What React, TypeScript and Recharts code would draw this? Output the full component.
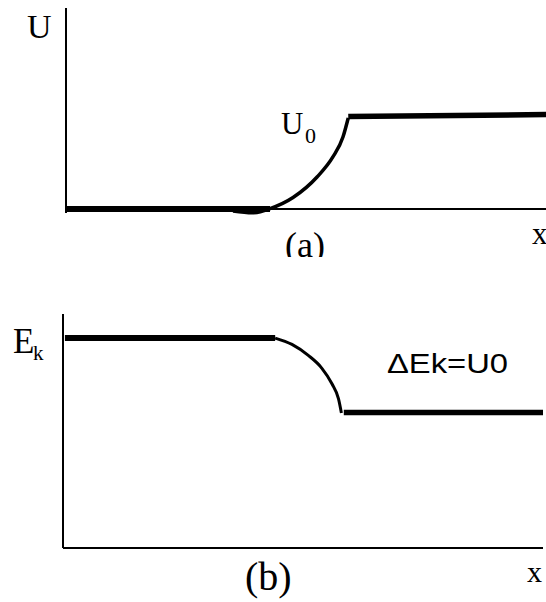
import React from 'react';
import { LineChart, Line, XAxis, YAxis, ReferenceLine, Customized } from 'recharts';

// panel (a): potential energy U against x
const uLow = [
  { x: 0, y: 0 },
  { x: 4.25, y: 0 },
];
const uRise = [
  { x: 3.48, y: -0.1 },
  { x: 3.88, y: -0.19 },
  { x: 4.25, y: 0.02 },
  { x: 4.73, y: 0.57 },
  { x: 5.23, y: 1.59 },
  { x: 5.56, y: 2.59 },
  { x: 5.77, y: 3.58 },
  { x: 5.88, y: 4.53 },
];
const uHigh = [
  { x: 5.88, y: 4.6 },
  { x: 10, y: 4.7 },
];

// panel (b): kinetic energy Ek against x
const ekHigh = [
  { x: 0.04, y: 8.97 },
  { x: 4.42, y: 8.97 },
];
const ekFall = [
  { x: 4.42, y: 8.97 },
  { x: 4.77, y: 8.7 },
  { x: 5.11, y: 8.23 },
  { x: 5.39, y: 7.69 },
  { x: 5.6, y: 7.03 },
  { x: 5.74, y: 6.37 },
  { x: 5.8, y: 5.77 },
];
const ekLow = [
  { x: 5.85, y: 5.79 },
  { x: 10, y: 5.79 },
];

const serif = "'Liberation Serif', 'Times New Roman', serif";
const sans = "'Liberation Sans', Arial, sans-serif";

const TopLabels = () => (
  <g fontFamily={serif} fill="#000">
    <text x={27} y={38} fontSize={34}>U</text>
    <text x={281} y={134} fontSize={31}>U</text>
    <text x={305} y={143} fontSize={22}>0</text>
    <text x={285} y={257} fontSize={36}>(a)</text>
    <text x={532} y={244} fontSize={31}>x</text>
  </g>
);

const BottomLabels = () => (
  <g fill="#000">
    <text x={13} y={96} fontSize={35} fontFamily={serif}>E</text>
    <text x={33} y={103} fontSize={21} fontFamily={serif}>k</text>
    <text x={387} y={116} fontSize={28} fontFamily={sans} textLength={121} lengthAdjust="spacingAndGlyphs">
      ΔEk=U0
    </text>
    <text x={245} y={333} fontSize={40} fontFamily={serif}>(b)</text>
    <text x={527} y={325} fontSize={30} fontFamily={serif}>x</text>
  </g>
);

export default function App() {
  return (
    <div style={{ position: 'absolute', left: 0, top: 0, width: 546, height: 602, background: '#fff' }}>
      <div style={{ width: 546, height: 257, overflow: 'hidden' }}>
        <LineChart width={546} height={257} margin={{ top: 8, right: 0, bottom: 44, left: 66 }}>
          <XAxis type="number" dataKey="x" domain={[0, 10]} hide />
          <YAxis type="number" domain={[-0.2, 10]} hide />
          {/* axes drawn as reference lines so the base line can sit on them */}
          <ReferenceLine x={0} stroke="#000" strokeWidth={2} />
          <ReferenceLine y={0} stroke="#000" strokeWidth={2} />
          <Line data={uLow} dataKey="y" type="linear" stroke="#000" strokeWidth={6} dot={false} isAnimationActive={false} />
          <Line data={uRise} dataKey="y" type="monotone" stroke="#000" strokeWidth={3.5} dot={false} isAnimationActive={false} />
          <Line data={uHigh} dataKey="y" type="linear" stroke="#000" strokeWidth={5.5} dot={false} isAnimationActive={false} />
          <Customized component={TopLabels} />
        </LineChart>
      </div>
      <div style={{ width: 546, height: 345, overflow: 'hidden' }}>
        <LineChart width={546} height={345} margin={{ top: 57, right: 3, bottom: 54, left: 63 }}>
          <XAxis type="number" dataKey="x" domain={[0, 10]} hide />
          <YAxis type="number" domain={[0, 10]} hide />
          <ReferenceLine x={0} stroke="#000" strokeWidth={2} />
          <ReferenceLine y={0} stroke="#000" strokeWidth={2} />
          <Line data={ekHigh} dataKey="y" type="linear" stroke="#000" strokeWidth={6} dot={false} isAnimationActive={false} />
          <Line data={ekFall} dataKey="y" type="monotone" stroke="#000" strokeWidth={3} dot={false} isAnimationActive={false} />
          <Line data={ekLow} dataKey="y" type="linear" stroke="#000" strokeWidth={5.5} dot={false} isAnimationActive={false} />
          <Customized component={BottomLabels} />
        </LineChart>
      </div>
    </div>
  );
}
